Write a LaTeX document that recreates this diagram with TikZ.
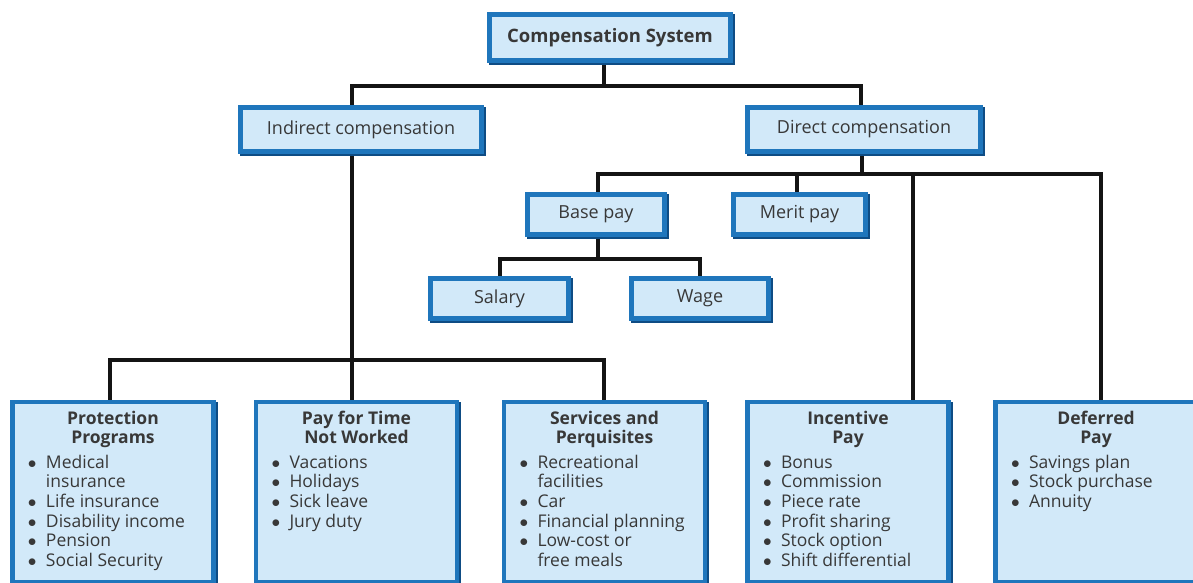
\documentclass[tikz,border=0pt]{standalone}
\usepackage{fontspec}
\setmainfont{Open Sans}
\usepackage{tikz}
\usetikzlibrary{positioning,shadows,backgrounds}

\definecolor{boxblue}{HTML}{1F76BC}
\definecolor{boxdark}{HTML}{0E4C84}
\definecolor{boxfill}{HTML}{D2E9F9}
\definecolor{ink}{HTML}{383838}

\newcommand{\itm}[1]{\hangindent=19pt\hangafter=1\noindent\makebox[19pt][l]{\hspace{1pt}$\bullet$}#1\par}
\newcommand{\leafbody}[3]{\parbox[t][172pt][t]{#1}{\fontsize{17.5}{19.6}\selectfont
  \vspace*{5pt}{\centering\bfseries #2\par}\vspace{5pt}#3}}

\tikzset{
  box/.style={draw=boxblue, line width=4.5pt, fill=boxfill, text=ink,
    drop shadow={shadow xshift=2pt, shadow yshift=-2pt, fill=boxdark, draw=boxdark, line width=4.5pt, opacity=1},
    font=\fontsize{18}{20}\selectfont, inner sep=0pt},
  leaf/.style={box, anchor=north, minimum width=201, minimum height=180},
  link/.style={line width=3.2pt, draw=black!92}
}

\begin{document}
\begin{tikzpicture}[x=1pt,y=-1pt]
  \useasboundingbox (0,0) rectangle (1193,582);
  \clip (0,0) rectangle (1193,582);

  \node[box, minimum width=241, minimum height=46] (comp) at (610,37.5) {\fontsize{18.5}{20}\selectfont\bfseries Compensation System};
  \node[box, minimum width=241, minimum height=44] (indirect) at (361,129.5) {Indirect compensation};
  \node[box, minimum width=233, minimum height=44] (direct) at (864,129.5) {Direct compensation};
  \node[box, minimum width=137, minimum height=40] (base) at (596,214.5) {Base pay};
  \node[box, minimum width=132, minimum height=40] (merit) at (799.5,214.5) {Merit pay};
  \node[box, minimum width=138, minimum height=40] (salary) at (499.5,298.5) {Salary};
  \node[box, minimum width=137, minimum height=40] (wage) at (700,298.5) {Wage};

  \node[leaf] (prot) at (113,399.5) {\leafbody{172pt}{Protection\\Programs}{%
    \itm{Medical\\insurance}\itm{Life insurance}\itm{Disability income}\itm{Pension}\itm{Social Security}}};
  \node[leaf] (ptime) at (356.5,399.5) {\leafbody{172pt}{Pay for Time\\Not Worked}{%
    \itm{Vacations}\itm{Holidays}\itm{Sick leave}\itm{Jury duty}}};
  \node[leaf] (serv) at (604.5,399.5) {\leafbody{172pt}{Services and\\Perquisites}{%
    \itm{Recreational\\facilities}\itm{Car}\itm{Financial planning}\itm{Low-cost or\\free meals}}};
  \node[leaf] (incent) at (848,399.5) {\leafbody{172pt}{Incentive\\Pay}{%
    \itm{Bonus}\itm{Commission}\itm{Piece rate}\itm{Profit sharing}\itm{Stock option}\itm{Shift differential}}};
  \node[leaf] (defer) at (1096,399.5) {\leafbody{172pt}{Deferred\\Pay}{%
    \itm{Savings plan}\itm{Stock purchase}\itm{Annuity}}};

  \begin{scope}[on background layer]
    \coordinate (jtop) at (604,86);
    \coordinate (jind) at (352,360);
    \coordinate (jdir) at (862,174);
    \coordinate (jbase) at (598,259);
    \draw[link] (comp.south -| jtop) -- (jtop);
    \draw[link] (indirect.north -| 352,0) |- (jtop) -| (direct.north -| 861,0);
    % indirect branch
    \draw[link] (indirect.south -| jind) -- (ptime.north -| jind);
    \draw[link] (prot.north -| 110,0) |- (jind) -| (serv.north -| 604,0);
    % direct branch
    \draw[link] (direct.south -| jdir) -- (jdir);
    \draw[link] (base.north -| 598,0) |- (jdir) -| (defer.north -| 1101,0);
    \draw[link] (merit.north -| 797,0) |- (jdir);
    \draw[link] (incent.north -| 913,0) |- (jdir);
    \draw[link] (base.south -| jbase) -- (jbase);
    \draw[link] (salary.north -| 500,0) |- (jbase) -| (wage.north -| 700,0);
  \end{scope}
\end{tikzpicture}
\end{document}
